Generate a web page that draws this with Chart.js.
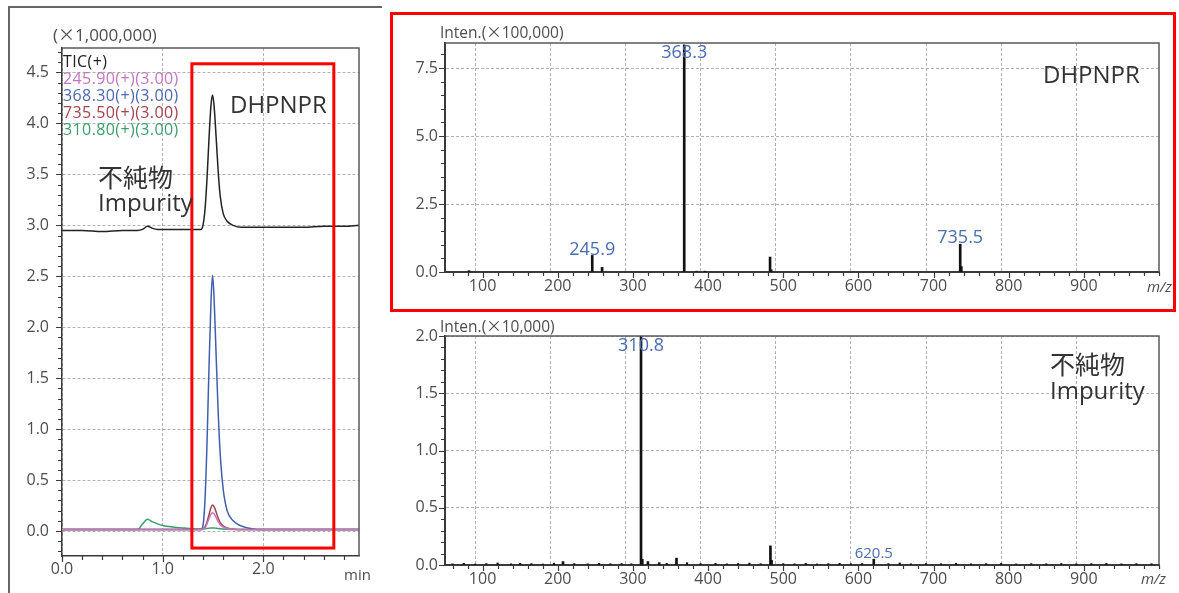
<!DOCTYPE html>
<html>
<head>
<meta charset="utf-8">
<script src="https://cdn.jsdelivr.net/npm/chart.js@4.4.1/dist/chart.umd.min.js"></script>
<style>
  body { margin: 0; background: #fff; width: 1179px; height: 593px; position: relative; overflow: hidden; }
  canvas { position: absolute; }
  .lbl { position: absolute; line-height: 1; white-space: nowrap; font-family: 'Open Sans', 'Noto Sans CJK JP', sans-serif; color: #4d4d4d; }
  .big { font-size: 24px; color: #333; }
  .cjk { font-family: 'Noto Sans CJK JP', sans-serif; font-size: 25px; color: #333; }
  .trace { font-size: 16px; letter-spacing: 0.4px; }
  .times { font-family: 'Noto Sans CJK JP', sans-serif; }
  #panelFrame { position: absolute; left: 8px; top: 6px; width: 372px; height: 600px; border-left: 2px solid #666; border-top: 2px solid #666; }
  #msBox { position: absolute; left: 390px; top: 12px; width: 786px; height: 300px; box-sizing: border-box; border: 3px solid #f00; }
</style>
</head>
<body>
<div id="panelFrame"></div>
<canvas id="chromChart" width="372" height="593" style="left:0;top:0"></canvas>
<canvas id="msTopChart" width="780" height="296" style="left:392px;top:14px"></canvas>
<canvas id="msBottomChart" width="780" height="279" style="left:392px;top:314px"></canvas>
<div id="msBox"></div>

<!-- chromatogram labels -->
<div class="lbl" style="left:53px;top:25px;font-size:17px">(<span class="times">×</span>1,000,000)</div>
<div class="lbl trace" style="left:63px;top:53px;color:#222">TIC(+)</div>
<div class="lbl trace" style="left:63px;top:70px;color:#c277bb">245.90(+)(3.00)</div>
<div class="lbl trace" style="left:63px;top:87px;color:#4a68b4">368.30(+)(3.00)</div>
<div class="lbl trace" style="left:63px;top:104px;color:#a3434d">735.50(+)(3.00)</div>
<div class="lbl trace" style="left:63px;top:121px;color:#3c9c6c">310.80(+)(3.00)</div>
<div class="lbl big" style="left:230px;top:92px">DHPNPR</div>
<div class="lbl cjk" style="left:98px;top:164px">不純物</div>
<div class="lbl big" style="left:98px;top:190px">Impurity</div>
<div class="lbl" style="left:344px;top:567px;font-size:15px">min</div>

<!-- spectrum labels -->
<div class="lbl" style="left:440px;top:24px;font-size:15.5px">Inten.(<span class="times">×</span>100,000)</div>
<div class="lbl big" style="left:1043px;top:62px">DHPNPR</div>
<div class="lbl" style="left:1147px;top:279px;font-size:15px;font-style:italic">m/z</div>
<div class="lbl" style="left:440px;top:318px;font-size:15.5px">Inten.(<span class="times">×</span>10,000)</div>
<div class="lbl cjk" style="left:1050px;top:351px">不純物</div>
<div class="lbl big" style="left:1050px;top:378px">Impurity</div>
<div class="lbl" style="left:1141px;top:571px;font-size:15px;font-style:italic">m/z</div>

<script>
// Chromatogram (retention time in min, intensity x1,000,000)
const chromTime = [0.00, 0.20, 0.40, 0.60, 0.75, 0.80, 0.85, 0.90, 0.95, 1.00, 1.10, 1.20, 1.30, 1.38,
  1.40, 1.42, 1.44, 1.46, 1.48, 1.495, 1.51, 1.53, 1.55, 1.57, 1.60, 1.64, 1.70, 1.78, 1.90, 2.00,
  2.20, 2.40, 2.60, 2.80, 2.95];
const ticTrace = [2.95, 2.95, 2.94, 2.95, 2.95, 2.96, 2.99, 2.97, 2.96, 2.96, 2.96, 2.96, 2.96, 2.96,
  3.00, 3.15, 3.45, 3.85, 4.18, 4.28, 4.18, 3.88, 3.55, 3.30, 3.12, 3.04, 3.00, 2.98, 2.98, 2.98,
  2.98, 2.98, 2.99, 2.99, 3.00];
const ion245 = [0.015, 0.015, 0.015, 0.015, 0.015, 0.015, 0.015, 0.015, 0.015, 0.015, 0.015, 0.015, 0.015, 0.015,
  0.02, 0.03, 0.07, 0.12, 0.165, 0.18, 0.17, 0.135, 0.095, 0.065, 0.04, 0.025, 0.018, 0.015, 0.015, 0.015,
  0.015, 0.015, 0.015, 0.015, 0.015];
const ion368 = [0.015, 0.015, 0.015, 0.015, 0.015, 0.015, 0.015, 0.015, 0.015, 0.015, 0.015, 0.015, 0.015, 0.015,
  0.05, 0.30, 0.85, 1.60, 2.25, 2.51, 2.30, 1.75, 1.20, 0.78, 0.42, 0.20, 0.10, 0.05, 0.02, 0.015,
  0.015, 0.015, 0.015, 0.015, 0.015];
const ion735 = [0.015, 0.015, 0.015, 0.015, 0.015, 0.015, 0.015, 0.015, 0.015, 0.015, 0.015, 0.015, 0.015, 0.015,
  0.02, 0.04, 0.09, 0.16, 0.23, 0.255, 0.24, 0.19, 0.13, 0.085, 0.05, 0.03, 0.02, 0.015, 0.015, 0.015,
  0.015, 0.015, 0.015, 0.015, 0.015];
const ion310 = [0.015, 0.015, 0.015, 0.015, 0.015, 0.07, 0.115, 0.09, 0.07, 0.055, 0.04, 0.03, 0.022, 0.02,
  0.02, 0.022, 0.025, 0.028, 0.03, 0.03, 0.03, 0.028, 0.025, 0.022, 0.02, 0.018, 0.016, 0.015, 0.015, 0.015,
  0.015, 0.015, 0.015, 0.015, 0.015];
const chromTimeTicks = [0.0, 1.0, 2.0];
const chromIntTicks = [0.0, 0.5, 1.0, 1.5, 2.0, 2.5, 3.0, 3.5, 4.0, 4.5];

// Mass spectrum of the main peak (intensity x100,000)
const msTopMz = [82.0, 245.9, 259.0, 368.3, 385.0, 396.0, 482.5, 484.0, 735.5, 737.0];
const msTopInt = [0.05, 0.61, 0.17, 8.35, 0.03, 0.03, 0.55, 0.08, 1.02, 0.20];
const msTopLabelled = [245.9, 368.3, 735.5];
const msTopIntTicks = [0.0, 2.5, 5.0, 7.5];

// Mass spectrum of the impurity (intensity x10,000)
const msBottomMz = [207.0, 310.8, 312.5, 320.0, 335.0, 358.0, 483.0, 484.5, 620.5];
const msBottomInt = [0.03, 2.00, 0.05, 0.03, 0.02, 0.06, 0.167, 0.04, 0.05];
const msBottomNoiseMz = [60, 75, 90, 105, 120, 138, 150, 165, 180, 195, 222, 240, 255, 270, 285, 298,
  345, 372, 390, 410, 425, 440, 455, 470, 500, 515, 530, 545, 560, 575, 590, 605, 640, 655, 670,
  690, 710, 730, 750, 770, 790, 810, 830, 850, 870, 890, 910, 930, 950, 970, 990];
const msBottomNoiseInt = [0.010, 0.015, 0.008, 0.012, 0.018, 0.010, 0.014, 0.012, 0.009, 0.016, 0.012, 0.010, 0.015, 0.011, 0.013, 0.010,
  0.014, 0.020, 0.012, 0.015, 0.010, 0.013, 0.017, 0.011, 0.012, 0.010, 0.014, 0.009, 0.012, 0.015, 0.011, 0.013, 0.012, 0.018, 0.010,
  0.013, 0.011, 0.015, 0.010, 0.012, 0.014, 0.009, 0.012, 0.011, 0.013, 0.010, 0.012, 0.014, 0.010, 0.012, 0.011];
const msBottomLabelled = [310.8, 620.5];
const msBottomIntTicks = [0.0, 0.5, 1.0, 1.5, 2.0];

const mzTicks = [100, 200, 300, 400, 500, 600, 700, 800, 900];

const FONT = "'Open Sans', 'Noto Sans CJK JP', sans-serif";
const AXIS_COLOR = '#3a3a3a';

// every minor step becomes a tick; the listed values are the labelled ones
function minorTicks(min, max, step, majors) {
  const ticks = [];
  for (let n = Math.ceil(min / step - 1e-6); n * step <= max + 1e-6; n++) {
    const v = +(n * step).toFixed(4);
    ticks.push({ value: v, major: majors.some(m => Math.abs(m - v) < 1e-6) });
  }
  return ticks;
}

function axis(o) {
  return {
    type: 'linear',
    min: o.min,
    max: o.max,
    offset: false,
    afterBuildTicks: s => { s.ticks = minorTicks(o.min, o.max, o.step, o.majors); },
    afterFit: s => {
      if (o.width) s.width = o.width;
      if (o.height) s.height = o.height;
    },
    grid: {
      drawTicks: false,
      lineWidth: 1,
      color: c => (c.tick && c.tick.major) ? '#b2b2b2' : 'rgba(0,0,0,0)'
    },
    border: { color: AXIS_COLOR, width: o.borderWidth || 1.5, dash: [3, 2] },
    ticks: {
      autoSkip: false,
      maxRotation: 0,
      padding: o.pad,
      color: '#4d4d4d',
      font: { family: FONT, size: 16 },
      callback: (v, i, t) => (t[i] && t[i].major) ? o.fmt(v) : ''
    }
  };
}

// outward tick marks plus the top/right edges of the plot box
const tickMarks = {
  id: 'tickMarks',
  afterDraw(chart) {
    const ctx = chart.ctx;
    const x = chart.scales.x, y = chart.scales.y;
    const a = chart.chartArea;
    ctx.save();
    ctx.strokeStyle = AXIS_COLOR;
    ctx.lineWidth = 1.2;
    ctx.beginPath();
    x.ticks.forEach(t => {
      const p = Math.round(x.getPixelForValue(t.value)) + 0.5;
      ctx.moveTo(p, a.bottom);
      ctx.lineTo(p, a.bottom + (t.major ? 6 : 4));
    });
    y.ticks.forEach(t => {
      const p = Math.round(y.getPixelForValue(t.value)) + 0.5;
      ctx.moveTo(a.left, p);
      ctx.lineTo(a.left - (t.major ? 6 : 4), p);
    });
    ctx.stroke();
    ctx.strokeStyle = '#5a5a5a';
    ctx.lineWidth = 1.5;
    ctx.beginPath();
    ctx.moveTo(a.left, a.top);
    ctx.lineTo(a.right, a.top);
    ctx.lineTo(a.right, a.bottom);
    ctx.stroke();
    ctx.restore();
  }
};

// highlight box around the main peak, given in data units
const regionBox = {
  id: 'regionBox',
  afterDraw(chart, args, opts) {
    if (!opts.x0) return;
    const x = chart.scales.x, y = chart.scales.y;
    const ctx = chart.ctx;
    const l = x.getPixelForValue(opts.x0), r = x.getPixelForValue(opts.x1);
    const t = y.getPixelForValue(opts.y1), b = y.getPixelForValue(opts.y0);
    ctx.save();
    ctx.strokeStyle = '#f00';
    ctx.lineWidth = 3;
    ctx.strokeRect(l, t, r - l, b - t);
    ctx.restore();
  }
};

// m/z labels above the chosen peaks
const peakLabels = {
  id: 'peakLabels',
  afterDatasetsDraw(chart, args, opts) {
    if (!opts.peaks) return;
    const ctx = chart.ctx;
    const x = chart.scales.x, y = chart.scales.y;
    const pts = chart.data.datasets[0].data;
    ctx.save();
    ctx.fillStyle = '#4a6cb4';
    ctx.textAlign = 'center';
    ctx.textBaseline = 'middle';
    opts.peaks.forEach((mz, i) => {
      const pt = pts.find(d => d.x === mz);
      const px = x.getPixelForValue(mz);
      const top = y.getPixelForValue(pt.y);
      const cy = Math.max(top - 6, chart.chartArea.top + 10);
      ctx.font = (opts.sizes ? opts.sizes[i] : 18) + 'px ' + FONT;
      ctx.fillText(mz.toFixed(1), px, cy);
    });
    ctx.restore();
  }
};

function trace(label, values, color, order) {
  return {
    label: label,
    data: chromTime.map((t, i) => ({ x: t, y: values[i] })),
    borderColor: color,
    borderWidth: 1.5,
    pointRadius: 0,
    cubicInterpolationMode: 'monotone',
    order: order
  };
}

function sticks(mz, inten, width) {
  return {
    data: mz.map((m, i) => ({ x: m, y: inten[i] })),
    backgroundColor: '#111',
    barThickness: width,
    grouped: false
  };
}

const baseOptions = {
  responsive: false,
  animation: false,
  devicePixelRatio: 1,
  events: []
};

new Chart(document.getElementById('chromChart'), {
  type: 'line',
  data: {
    datasets: [
      trace('245.90(+)(3.00)', ion245, '#c277bb', 0),
      trace('735.50(+)(3.00)', ion735, '#a3434d', 1),
      trace('368.30(+)(3.00)', ion368, '#3f5fae', 2),
      trace('310.80(+)(3.00)', ion310, '#3c9c6c', 3),
      trace('TIC(+)', ticTrace, '#222', 4)
    ]
  },
  options: {
    ...baseOptions,
    layout: { padding: { left: 0, top: 48, right: 13, bottom: 0 } },
    scales: {
      x: axis({ min: 0, max: 2.95, step: 0.2, majors: chromTimeTicks, fmt: v => v.toFixed(1), height: 37, pad: 4 }),
      y: axis({ min: -0.245, max: 4.74, step: 0.1, majors: chromIntTicks, fmt: v => v.toFixed(1), width: 62, pad: 13 })
    },
    plugins: {
      legend: { display: false },
      tooltip: { enabled: false },
      regionBox: { x0: 1.29, x1: 2.70, y0: -0.167, y1: 4.585 }
    }
  },
  plugins: [tickMarks, regionBox]
});

function spectrumChart(id, mz, inten, extra, yMax, yStep, yTicks, labelled, sizes, padTop, xHeight) {
  const datasets = [sticks(mz, inten, 2)];
  if (extra) datasets.push(sticks(extra.mz, extra.inten, 1.5));
  return new Chart(document.getElementById(id), {
    type: 'bar',
    data: { datasets: datasets },
    options: {
      ...baseOptions,
      layout: { padding: { left: 0, top: padTop, right: 13, bottom: 0 } },
      scales: {
        x: axis({ min: 50, max: 1000, step: 20, majors: mzTicks, fmt: v => String(v), height: xHeight, pad: 5, borderWidth: 2 }),
        y: axis({ min: 0, max: yMax, step: yStep, majors: yTicks, fmt: v => v.toFixed(1), width: 53, pad: 7, borderWidth: 2 })
      },
      plugins: {
        legend: { display: false },
        tooltip: { enabled: false },
        peakLabels: { peaks: labelled, sizes: sizes }
      }
    },
    plugins: [tickMarks, peakLabels]
  });
}

spectrumChart('msTopChart', msTopMz, msTopInt, null, 8.42, 0.5, msTopIntTicks,
  msTopLabelled, [18, 18, 18], 29, 38);
spectrumChart('msBottomChart', msBottomMz, msBottomInt, { mz: msBottomNoiseMz, inten: msBottomNoiseInt },
  2.0, 0.1, msBottomIntTicks, msBottomLabelled, [18, 15], 22, 28);
</script>
</body>
</html>
